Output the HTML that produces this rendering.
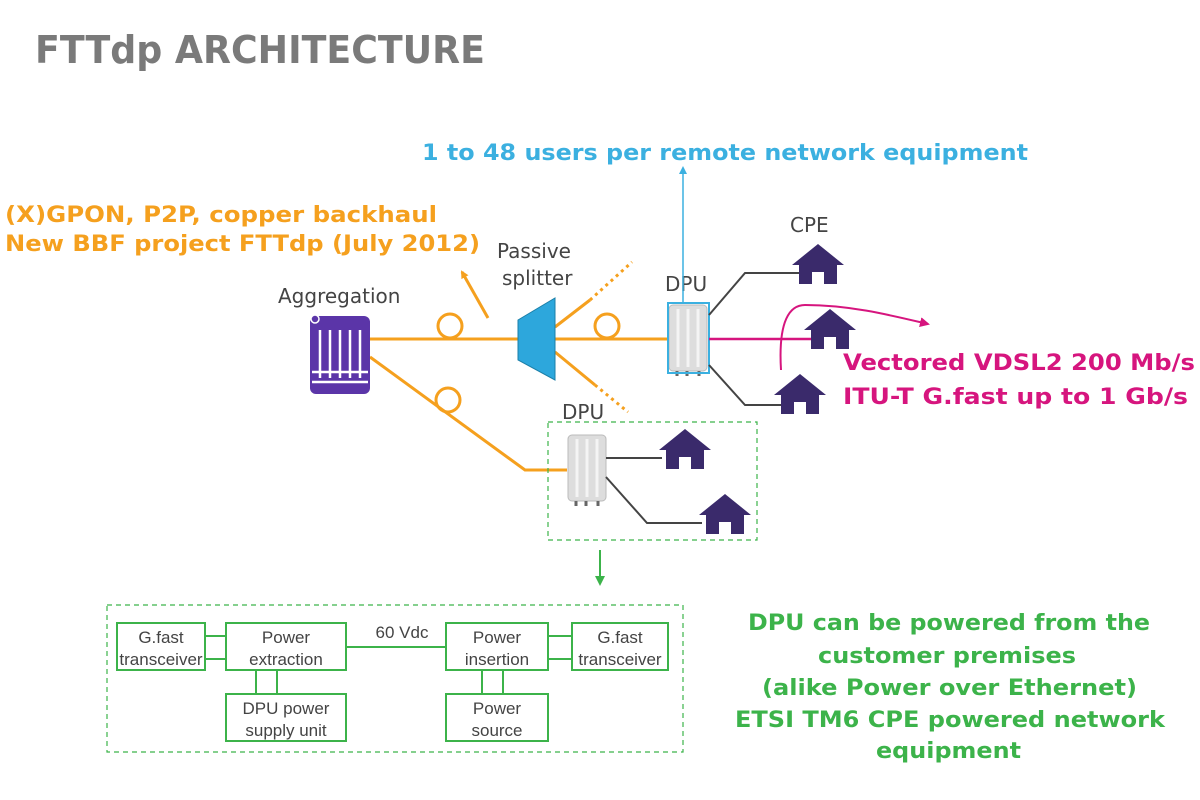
<!DOCTYPE html>
<html><head><meta charset="utf-8"><style>
html,body{margin:0;padding:0;background:#fff;}
svg{display:block;font-family:"DejaVu Sans","Liberation Sans",sans-serif;}
</style></head><body>
<svg width="1200" height="800" viewBox="0 0 1200 800" xmlns="http://www.w3.org/2000/svg">
<defs>
<marker id="ao" markerWidth="8" markerHeight="8" refX="6" refY="4" orient="auto" markerUnits="userSpaceOnUse"><path d="M0,0 L8,4 L0,8 z" fill="#f5a01e"/></marker>
<marker id="ab" markerWidth="8" markerHeight="8" refX="6" refY="4" orient="auto" markerUnits="userSpaceOnUse"><path d="M0,0 L8,4 L0,8 z" fill="#3bb0e0"/></marker>
<marker id="ap" markerWidth="10" markerHeight="10" refX="8" refY="5" orient="auto" markerUnits="userSpaceOnUse"><path d="M0,0 L10,5 L0,10 z" fill="#d6157e"/></marker>
<marker id="ag" markerWidth="10" markerHeight="10" refX="8" refY="5" orient="auto" markerUnits="userSpaceOnUse"><path d="M0,0 L10,5 L0,10 z" fill="#3cb34a"/></marker>
<g id="house"><path d="M-26,0 L0,-21 L26,0 L19,0 L19,19 L6,19 L6,7 L-6,7 L-6,19 L-19,19 L-19,0 z" fill="#3a2a6b"/></g>
<g id="dpu"><rect x="0" y="0" width="38" height="66" rx="4" fill="#ddd" stroke="#bbb"/><path d="M9,4V62M19,4V62M29,4V62" stroke="#f4f4f4" stroke-width="3"/><path d="M8,66v5M18,66v5M30,66v5" stroke="#666" stroke-width="3"/></g>
</defs>

<text x="35" y="63" font-size="38" font-weight="bold" fill="#7a7a7a" textLength="450" lengthAdjust="spacingAndGlyphs">FTTdp ARCHITECTURE</text>

<text x="422" y="160" font-size="22" font-weight="bold" fill="#3bb0e0" textLength="606" lengthAdjust="spacingAndGlyphs">1 to 48 users per remote network equipment</text>
<text x="5" y="222" font-size="22" font-weight="bold" fill="#f5a01e" textLength="432" lengthAdjust="spacingAndGlyphs">(X)GPON, P2P, copper backhaul</text>
<text x="5" y="251" font-size="22" font-weight="bold" fill="#f5a01e" textLength="475" lengthAdjust="spacingAndGlyphs">New BBF project FTTdp (July 2012)</text>

<g font-size="20" fill="#444">
<text x="497" y="258">Passive</text>
<text x="502" y="285">splitter</text>
<text x="278" y="303">Aggregation</text>
<text x="665" y="291">DPU</text>
<text x="790" y="232">CPE</text>
<text x="562" y="419">DPU</text>
</g>

<line x1="683" y1="303" x2="683" y2="168" stroke="#3bb0e0" stroke-width="1.5" marker-end="url(#ab)"/>

<g stroke="#f5a01e" stroke-width="3" fill="none">
<line x1="370" y1="339" x2="668" y2="339"/>
<circle cx="450" cy="326" r="12"/>
<circle cx="607" cy="326" r="12"/>
<line x1="488" y1="318" x2="462" y2="272" marker-end="url(#ao)"/>
<line x1="555" y1="327" x2="590" y2="300"/>
<line x1="590" y1="300" x2="632" y2="262" stroke-dasharray="3,4"/>
<line x1="555" y1="352" x2="595" y2="385"/>
<line x1="595" y1="385" x2="628" y2="412" stroke-dasharray="3,4"/>
<polyline points="370,357 525,470 567,470"/>
<circle cx="448" cy="400" r="12"/>
</g>

<rect x="310" y="316" width="60" height="78" rx="6" fill="#5b35a8"/>
<g stroke="#fff" stroke-width="2.5"><path d="M320,330V378M330,330V378M340,330V378M350,330V378M360,330V378M312,372H368M312,382H368"/></g>
<circle cx="315" cy="319" r="4" fill="#5b35a8" stroke="#fff" stroke-width="1.5"/>

<polygon points="518,320 555,298 555,380 518,360" fill="#2da7dc" stroke="#1b7fa8"/>

<use href="#dpu" x="669" y="305"/>
<rect x="668" y="303" width="41" height="70" fill="none" stroke="#3bb0e0" stroke-width="2"/>
<g stroke="#444" stroke-width="2" fill="none">
<polyline points="709,315 745,273 800,273"/>
<polyline points="709,365 745,405 782,405"/>
</g>
<line x1="709" y1="339" x2="812" y2="339" stroke="#d6157e" stroke-width="2.5"/>
<path d="M781,370 C778,320 790,305 805,305 C850,305 890,315 928,324" stroke="#d6157e" stroke-width="2" fill="none" marker-end="url(#ap)"/>
<use href="#house" x="818" y="265"/>
<use href="#house" x="830" y="330"/>
<use href="#house" x="800" y="395"/>

<text x="843" y="370" font-size="22" font-weight="bold" fill="#d6157e" textLength="352" lengthAdjust="spacingAndGlyphs">Vectored VDSL2 200 Mb/s</text>
<text x="843" y="404" font-size="22" font-weight="bold" fill="#d6157e" textLength="345" lengthAdjust="spacingAndGlyphs">ITU-T G.fast up to 1 Gb/s</text>

<rect x="548" y="422" width="209" height="118" fill="none" stroke="#3cb34a" stroke-width="1.2" stroke-dasharray="5,4"/>
<use href="#dpu" x="568" y="435"/>
<g stroke="#444" stroke-width="2" fill="none">
<line x1="606" y1="458" x2="662" y2="458"/>
<polyline points="606,477 647,523 702,523"/>
</g>
<use href="#house" x="685" y="450"/>
<use href="#house" x="725" y="515"/>
<line x1="600" y1="550" x2="600" y2="584" stroke="#3cb34a" stroke-width="2" marker-end="url(#ag)"/>

<rect x="107" y="605" width="576" height="147" fill="none" stroke="#3cb34a" stroke-width="1.2" stroke-dasharray="5,4"/>
<g stroke="#3cb34a" stroke-width="2" fill="none">
<rect x="117" y="623" width="88" height="47"/>
<rect x="226" y="623" width="120" height="47"/>
<rect x="226" y="694" width="120" height="47"/>
<rect x="446" y="623" width="102" height="47"/>
<rect x="446" y="694" width="102" height="47"/>
<rect x="572" y="623" width="96" height="47"/>
<path d="M205,636H226M205,659H226M346,647H446M548,636H572M548,659H572M256,670V694M277,670V694M482,670V694M503,670V694"/>
</g>
<g font-size="17" fill="#444" text-anchor="middle" font-family="Liberation Sans, sans-serif">
<text x="161" y="643">G.fast</text><text x="161" y="665">transceiver</text>
<text x="286" y="643">Power</text><text x="286" y="665">extraction</text>
<text x="286" y="714">DPU power</text><text x="286" y="736">supply unit</text>
<text x="497" y="643">Power</text><text x="497" y="665">insertion</text>
<text x="497" y="714">Power</text><text x="497" y="736">source</text>
<text x="620" y="643">G.fast</text><text x="620" y="665">transceiver</text>
<text x="402" y="638">60 Vdc</text>
</g>

<g font-size="22" font-weight="bold" fill="#3cb34a" lengthAdjust="spacingAndGlyphs">
<text x="748" y="630" textLength="402" lengthAdjust="spacingAndGlyphs">DPU can be powered from the</text>
<text x="818" y="663" textLength="258" lengthAdjust="spacingAndGlyphs">customer premises</text>
<text x="762" y="695" textLength="375" lengthAdjust="spacingAndGlyphs">(alike Power over Ethernet)</text>
<text x="735" y="727" textLength="430" lengthAdjust="spacingAndGlyphs">ETSI TM6 CPE powered network</text>
<text x="876" y="758" textLength="145" lengthAdjust="spacingAndGlyphs">equipment</text>
</g>
</svg>
</body></html>
